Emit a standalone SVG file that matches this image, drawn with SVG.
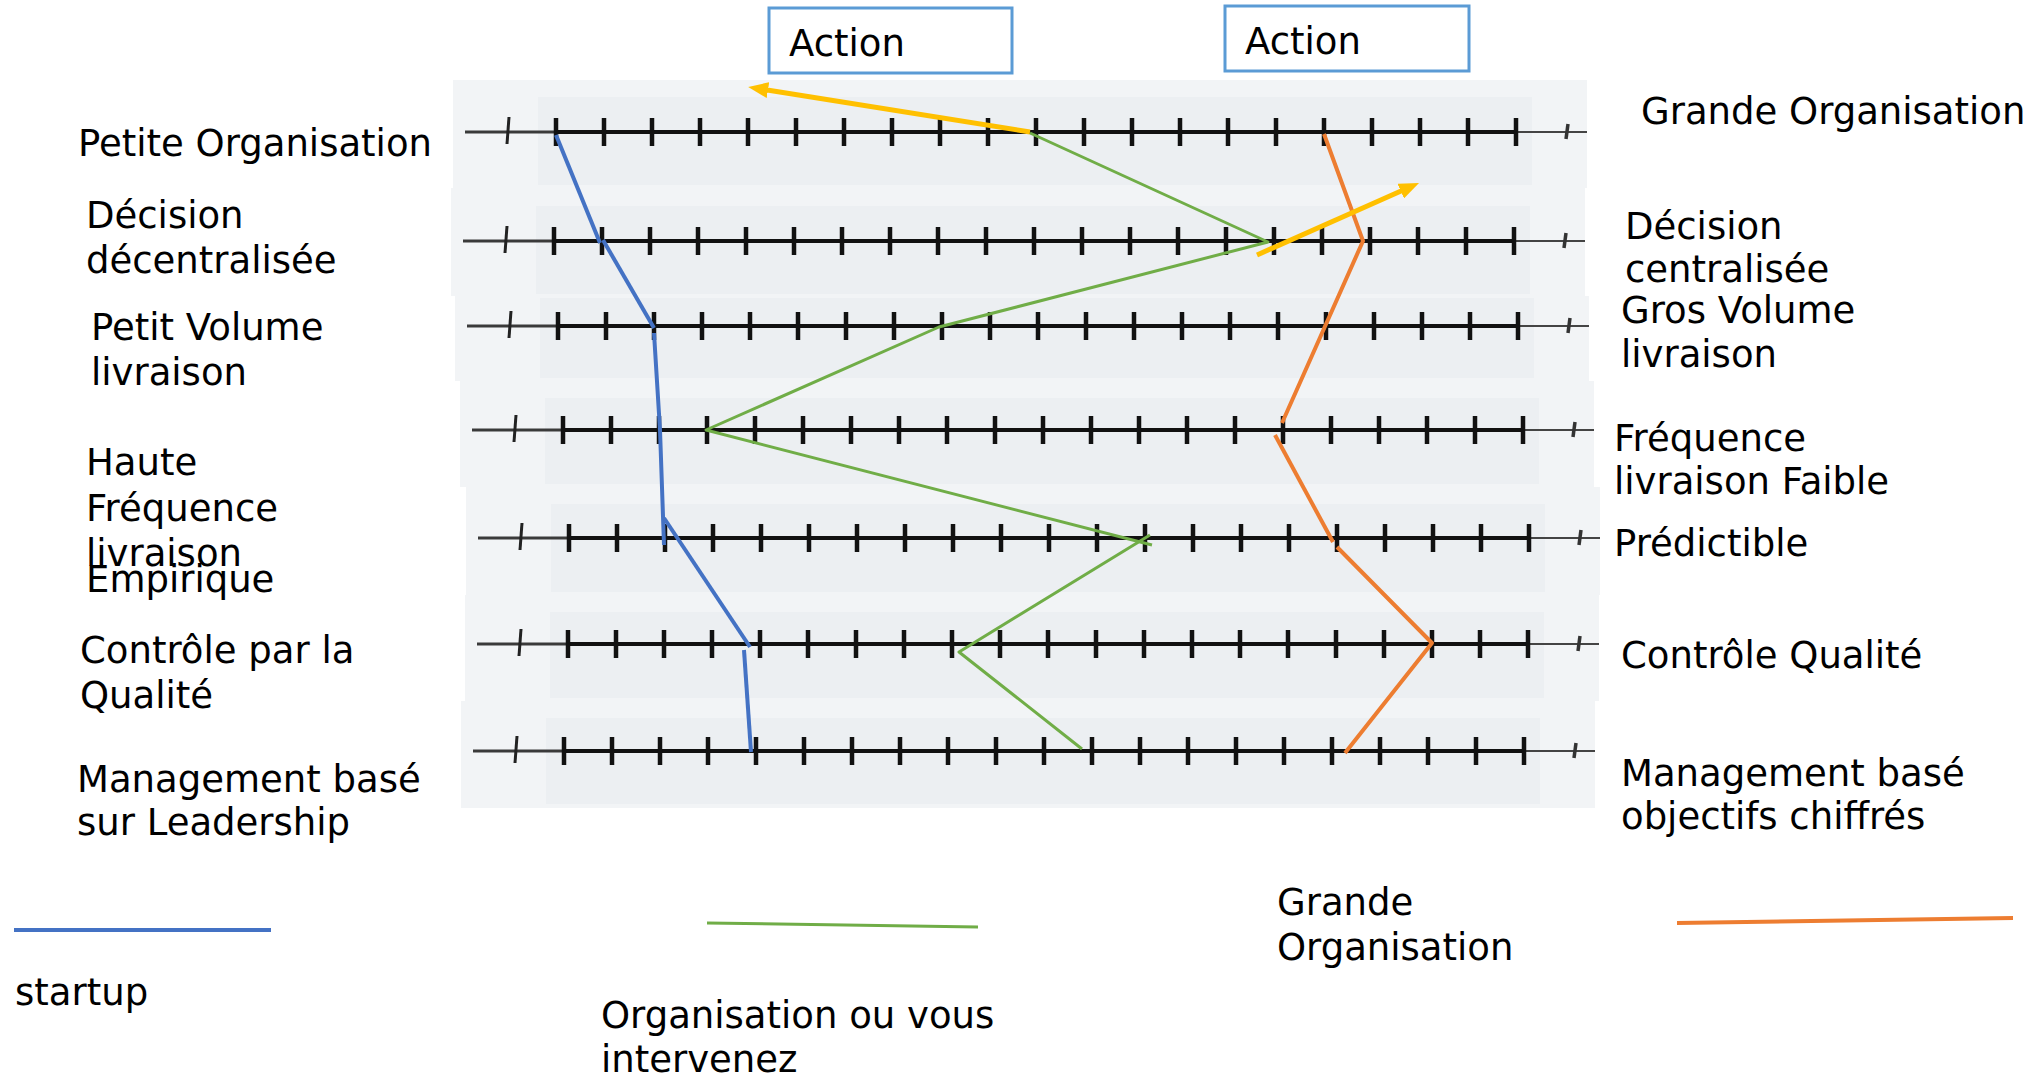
<svg xmlns="http://www.w3.org/2000/svg" xmlns:xlink="http://www.w3.org/1999/xlink" width="2036" height="1078" viewBox="0 0 2036 1078">
<style>
.lbl{font-family:"DejaVu Sans","Liberation Sans",sans-serif;font-size:37px;fill:#000}
.strip{fill:#f2f4f6}
.inner{fill:#eceff2}
.blue{stroke:#4472C4;stroke-width:4;fill:none;stroke-linejoin:round}
.green{stroke:#70AD47;stroke-width:3;fill:none;stroke-linejoin:round}
.orange{stroke:#ED7D31;stroke-width:4;fill:none;stroke-linejoin:round}
.yellow{stroke:#FFC000;stroke-width:5;fill:none}
.box{fill:#fff;stroke:#5B9BD5;stroke-width:3}
</style>
<defs>
<marker id="ah" markerUnits="userSpaceOnUse" viewBox="0 0 20 16" markerWidth="20" markerHeight="16" refX="4" refY="8" orient="auto">
<path d="M0,0 L20,8 L0,16 z" fill="#FFC000"/>
</marker>
<g id="scale">
<path d="M-91,0 H0" stroke="#3a3a3a" stroke-width="3"/>
<path d="M0,0 H960" stroke="#111" stroke-width="4"/>
<path d="M960,0 H1031" stroke="#444" stroke-width="2"/>
<path d="M0,-14V14 M48,-14V14 M96,-14V14 M144,-14V14 M192,-14V14 M240,-14V14 M288,-14V14 M336,-14V14 M384,-14V14 M432,-14V14 M480,-14V14 M528,-14V14 M576,-14V14 M624,-14V14 M672,-14V14 M720,-14V14 M768,-14V14 M816,-14V14 M864,-14V14 M912,-14V14 M960,-14V14" stroke="#111" stroke-width="4.5"/>
<path d="M-47,-15 L-49,12" stroke="#222" stroke-width="3"/>
<path d="M1012,-8 L1010,7" stroke="#333" stroke-width="3.5"/>
</g>
</defs>
<rect width="2036" height="1078" fill="#fff"/>

<g id="scales">
<g id="row1"><rect class="strip" x="453" y="80" width="1134" height="108"/><rect class="inner" x="538" y="97" width="994" height="88"/><use xlink:href="#scale" transform="translate(556,132)"/></g>
<g id="row2"><rect class="strip" x="451" y="188" width="1134" height="108"/><rect class="inner" x="536" y="206" width="994" height="88"/><use xlink:href="#scale" transform="translate(554,241)"/></g>
<g id="row3"><rect class="strip" x="455" y="296" width="1134" height="85"/><rect class="inner" x="540" y="298" width="994" height="80"/><use xlink:href="#scale" transform="translate(558,326)"/></g>
<g id="row4"><rect class="strip" x="460" y="381" width="1134" height="106"/><rect class="inner" x="545" y="398" width="994" height="86"/><use xlink:href="#scale" transform="translate(563,430)"/></g>
<g id="row5"><rect class="strip" x="466" y="487" width="1134" height="108"/><rect class="inner" x="551" y="504" width="994" height="88"/><use xlink:href="#scale" transform="translate(569,538)"/></g>
<g id="row6"><rect class="strip" x="465" y="595" width="1134" height="106"/><rect class="inner" x="550" y="612" width="994" height="86"/><use xlink:href="#scale" transform="translate(568,644)"/></g>
<g id="row7"><rect class="strip" x="461" y="701" width="1134" height="107"/><rect class="inner" x="546" y="718" width="994" height="86"/><use xlink:href="#scale" transform="translate(564,751)"/></g>
</g>

<g id="action1"><rect class="box" x="769" y="8" width="243" height="65"/><text class="lbl" x="789" y="56">Action</text></g>
<g id="action2"><rect class="box" x="1225" y="6" width="244" height="65"/><text class="lbl" x="1245" y="54">Action</text></g>

<g id="connectors">
<polyline class="blue" points="556,135 600,243"/>
<polyline class="blue" points="603,240 654,328"/>
<polyline class="blue" points="654,333 660,430 664,545"/>
<polyline class="blue" points="664,518 750,647"/>
<polyline class="blue" points="744,650 751,752"/>
<polyline class="green" points="1030,133 1268,242 939,327 706,430 1152,545"/>
<polyline class="green" points="1150,535 959,652 1082,749"/>
<polyline class="orange" points="1324,134 1363,241 1282,423"/>
<polyline class="orange" points="1275,435 1333,542"/>
<polyline class="orange" points="1337,547 1432,643 1345,753"/>
<line class="yellow" x1="1030" y1="132" x2="764" y2="89.5" marker-end="url(#ah)"/>
<line class="yellow" x1="1257" y1="255" x2="1404.4" y2="189.5" marker-end="url(#ah)"/>
</g>

<g id="left-labels">
<text class="lbl" x="78" y="156">Petite Organisation</text>
<text class="lbl" x="86" y="228">Décision</text>
<text class="lbl" x="86" y="273">décentralisée</text>
<text class="lbl" x="91" y="340">Petit Volume</text>
<text class="lbl" x="91" y="385">livraison</text>
<text class="lbl" x="86" y="475">Haute</text>
<text class="lbl" x="86" y="521">Fréquence</text>
<text class="lbl" x="86" y="566">livraison</text>
<text class="lbl" x="86" y="592">Empirique</text>
<text class="lbl" x="80" y="663">Contrôle par la</text>
<text class="lbl" x="80" y="708">Qualité</text>
<text class="lbl" x="77" y="792">Management basé</text>
<text class="lbl" x="77" y="835">sur Leadership</text>
</g>

<g id="right-labels">
<text class="lbl" x="1641" y="124">Grande Organisation</text>
<text class="lbl" x="1625" y="239">Décision</text>
<text class="lbl" x="1625" y="282">centralisée</text>
<text class="lbl" x="1621" y="323">Gros Volume</text>
<text class="lbl" x="1621" y="367">livraison</text>
<text class="lbl" x="1614" y="451">Fréquence</text>
<text class="lbl" x="1614" y="494">livraison Faible</text>
<text class="lbl" x="1614" y="556">Prédictible</text>
<text class="lbl" x="1621" y="668">Contrôle Qualité</text>
<text class="lbl" x="1621" y="786">Management basé</text>
<text class="lbl" x="1621" y="829">objectifs chiffrés</text>
</g>

<g id="legend-startup">
<line x1="14" y1="930" x2="271" y2="930" stroke="#4472C4" stroke-width="4"/>
<text class="lbl" x="15" y="1005">startup</text>
</g>
<g id="legend-organisation">
<line x1="707" y1="923" x2="978" y2="927" stroke="#70AD47" stroke-width="3"/>
<text class="lbl" x="601" y="1028">Organisation ou vous</text>
<text class="lbl" x="601" y="1072">intervenez</text>
</g>
<g id="legend-grande">
<text class="lbl" x="1277" y="915">Grande</text>
<text class="lbl" x="1277" y="960">Organisation</text>
<line x1="1677" y1="923" x2="2013" y2="918" stroke="#ED7D31" stroke-width="4"/>
</g>
</svg>
